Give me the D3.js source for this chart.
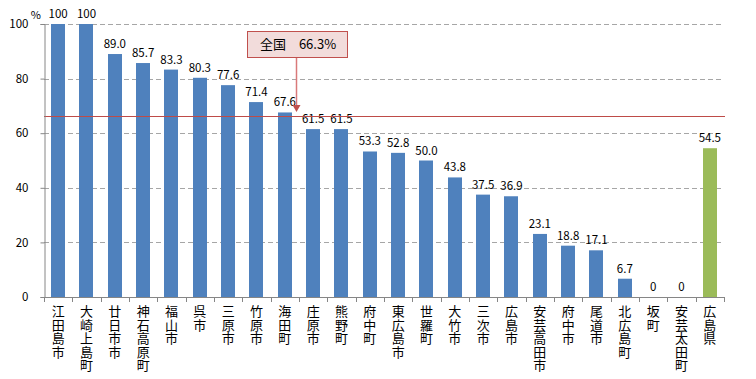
<!DOCTYPE html>
<html><head><meta charset="utf-8">
<script src="https://cdn.jsdelivr.net/npm/d3@7/dist/d3.min.js"></script>
<style>body{margin:0;background:#fff}svg{display:block}</style>
</head><body><svg id="c" width="756" height="379"></svg>
<script>
const categories = ["江田島市","大崎上島町","廿日市市","神石高原町","福山市","呉市","三原市","竹原市","海田町","庄原市","熊野町","府中町","東広島市","世羅町","大竹市","三次市","広島市","安芸高田市","府中市","尾道市","北広島町","坂町","安芸太田町","広島県"];
const values = [100,100,89.0,85.7,83.3,80.3,77.6,71.4,67.6,61.5,61.5,53.3,52.8,50.0,43.8,37.5,36.9,23.1,18.8,17.1,6.7,0,0,54.5];
const valueLabels = ["100","100","89.0","85.7","83.3","80.3","77.6","71.4","67.6","61.5","61.5","53.3","52.8","50.0","43.8","37.5","36.9","23.1","18.8","17.1","6.7","0","0","54.5"];
const yTicks = [0,20,40,60,80,100];
const nationalValue = 66.3;
const nationalLabel = "全国　66.3%";

const svg = d3.select("#c");
const pLeft = 44, pRight = 724, pTop = 24, pBottom = 297;
const font = "'Noto Sans CJK JP','DejaVu Sans',sans-serif";

const x = d3.scaleBand().domain(categories).range([pLeft, pRight]).paddingInner(0.5).paddingOuter(0.25);
const y = d3.scaleLinear().domain([0,100]).range([pBottom, pTop]);

// gridlines
svg.append("g").selectAll("line").data(yTicks.filter(d=>d>0)).join("line")
  .attr("x1", pLeft).attr("x2", pRight)
  .attr("y1", d=>Math.round(y(d))+0.5).attr("y2", d=>Math.round(y(d))+0.5)
  .attr("stroke", "#a6a6a6").attr("stroke-dasharray", "5,3").attr("stroke-width", 1);

// bars
svg.append("g").selectAll("rect").data(values).join("rect")
  .attr("x", (d,i)=>Math.round(x(categories[i])))
  .attr("width", Math.round(x.bandwidth()))
  .attr("y", d=>y(d))
  .attr("height", d=>pBottom - y(d))
  .attr("fill", (d,i)=> i===categories.length-1 ? "#9BBB59" : "#4F81BD");

// value labels
svg.append("g").selectAll("text").data(values).join("text")
  .attr("x", (d,i)=>x(categories[i]) + x.bandwidth()/2)
  .attr("y", d=>y(d) - 6)
  .attr("text-anchor", "middle")
  .attr("font-family", font).attr("font-size", 11.5).attr("fill", "#000")
  .text((d,i)=>valueLabels[i]);

// national line
svg.append("line")
  .attr("x1", pLeft).attr("x2", pRight+1)
  .attr("y1", Math.round(y(nationalValue))+0.5).attr("y2", Math.round(y(nationalValue))+0.5)
  .attr("stroke", "#BE4B48").attr("stroke-width", 1);

// y axis
const yAxis = d3.axisLeft(y).tickValues(yTicks).tickSize(4).tickPadding(6).tickFormat(d3.format("d"));
const ya = svg.append("g").attr("transform", `translate(${pLeft+0.5},0)`).call(yAxis);
ya.select(".domain").attr("stroke", "#868686");
ya.selectAll(".tick line").attr("stroke", "#868686");
ya.selectAll("text").attr("font-family", font).attr("font-size", 11.5).attr("fill", "#000").attr("x", -16);

svg.append("text").attr("x", 41).attr("y", 19).attr("text-anchor", "end")
  .attr("font-family", font).attr("font-size", 11).text("%");

// x axis line and ticks between categories
const xa = svg.append("g");
xa.append("line").attr("x1", pLeft).attr("x2", pRight).attr("y1", pBottom+0.5).attr("y2", pBottom+0.5).attr("stroke", "#868686");
const step = x.step();
const gap = step - x.bandwidth();
const tickIdx = d3.range(categories.length+1);
xa.selectAll("line.t").data(tickIdx).join("line").attr("class","t")
  .attr("x1", i => Math.round(i===0 ? pLeft : (i===categories.length ? pRight : x(categories[i]) - gap/2))+0.5)
  .attr("x2", i => Math.round(i===0 ? pLeft : (i===categories.length ? pRight : x(categories[i]) - gap/2))+0.5)
  .attr("y1", pBottom).attr("y2", pBottom+5).attr("stroke", "#868686");

// category labels (vertical text)
svg.append("g").selectAll("text").data(categories).join("text")
  .attr("x", c => x(c)+x.bandwidth()/2)
  .attr("y", 305)
  .attr("writing-mode", "vertical-rl")
  .style("text-orientation", "upright")
  .attr("letter-spacing", 0.5)
  .attr("font-family", font).attr("font-size", 13).attr("fill","#000")
  .text(c => c);

// callout
const bx = 247, by = 31, bw = 100, bh = 26;
svg.append("rect").attr("x", bx+0.5).attr("y", by+0.5).attr("width", bw).attr("height", bh)
  .attr("fill", "#F2DCDB").attr("stroke", "#C0504D").attr("stroke-width", 1);
svg.append("text").attr("x", bx+bw/2+1).attr("y", by+18).attr("text-anchor","middle")
  .attr("font-family", font).attr("font-size", 13).attr("fill","#000").text(nationalLabel);
const ax = 296.5, ay2 = Math.round(y(nationalValue)) - 4;
svg.append("line").attr("x1", ax).attr("x2", ax).attr("y1", by+bh+1).attr("y2", ay2-5)
  .attr("stroke", "#D9797A").attr("stroke-width", 1.5);
svg.append("path").attr("d", `M${ax-4},${ay2-7} L${ax+4},${ay2-7} L${ax},${ay2} Z`).attr("fill", "#C0504D");
</script></body></html>
